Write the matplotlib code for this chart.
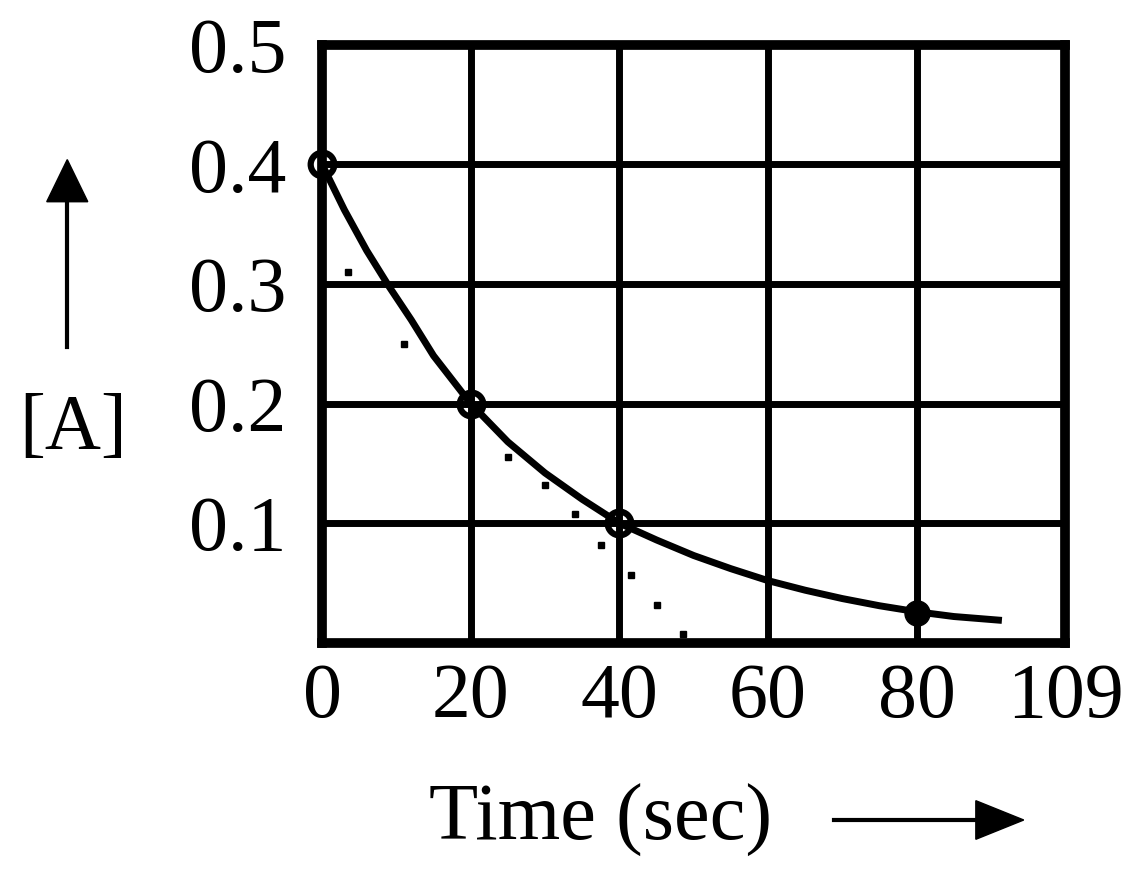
import matplotlib.pyplot as plt

# values
time_pts = [0, 20, 40]
conc_pts = [0.40, 0.20, 0.10]
last_t = [80]
last_a = [0.025]

curve_t = [0, 3, 6, 9, 12, 15, 20, 25, 30, 35, 40, 45, 50, 55, 60, 65, 70, 75, 80, 85, 91]
curve_a = [0.40, 0.362, 0.328, 0.298, 0.27, 0.24, 0.20, 0.168, 0.142, 0.12, 0.10,
           0.086, 0.073, 0.062, 0.052, 0.044, 0.037, 0.031, 0.026, 0.022, 0.019]

# stray dotted marks under the curve
dot_t = [3.5, 11, 25, 30, 34, 37.5, 41.5, 45, 48.5]
dot_a = [0.31, 0.25, 0.155, 0.132, 0.108, 0.082, 0.057, 0.032, 0.007]

xticks = [0, 20, 40, 60, 80, 100]
xlabels = ['0', '20', '40', '60', '80', '109']
yticks = [0.1, 0.2, 0.3, 0.4, 0.5]
ylabels = ['0.1', '0.2', '0.3', '0.4', '0.5']

plt.rcParams['font.family'] = ['Liberation Serif', 'DejaVu Serif']

fig = plt.figure(figsize=(11.4, 8.77), dpi=100)
ax = fig.add_axes([0.2825, 0.267, 0.652, 0.682])

ax.set_xlim(0, 100)
ax.set_ylim(0, 0.5)
for x in xticks[1:-1]:
    ax.axvline(x, color='black', lw=5, zorder=1)
for y in yticks[:-1]:
    ax.axhline(y, color='black', lw=5, zorder=1)

ax.plot(curve_t, curve_a, color='black', lw=5, zorder=3)
ax.plot(dot_t, dot_a, linestyle='none', marker='s', ms=5, color='black', zorder=3)
ax.plot(time_pts, conc_pts, linestyle='none', marker='o', ms=17, mfc='none',
        mec='black', mew=4.5, zorder=4, clip_on=False)
ax.plot(last_t, last_a, linestyle='none', marker='o', ms=18, color='black', zorder=4)

for s in ax.spines.values():
    s.set_linewidth(7)

ax.set_xticks(xticks)
ax.set_xticklabels(xlabels, fontsize=56)
ax.set_yticks(yticks)
ax.set_yticklabels(ylabels, fontsize=56)
ax.tick_params(length=0)
ax.tick_params(axis='x', pad=14)
ax.tick_params(axis='y', pad=26)

fig.text(0.064, 0.51, '[A]', fontsize=56, ha='center', va='center')
fig.text(0.527, 0.065, 'Time (sec)', fontsize=58, ha='center', va='center')

fig.add_artist(plt.Line2D([0.059, 0.059], [0.604, 0.78], color='black', lw=3))
fig.patches.append(plt.Polygon([[0.041, 0.77], [0.077, 0.77], [0.059, 0.818]],
                               closed=True, color='black', transform=fig.transFigure))
fig.add_artist(plt.Line2D([0.732, 0.86], [0.065, 0.065], color='black', lw=3))
fig.patches.append(plt.Polygon([[0.856, 0.043], [0.856, 0.087], [0.898, 0.065]],
                               closed=True, color='black', transform=fig.transFigure))

fig.savefig('out.png', dpi=100)
